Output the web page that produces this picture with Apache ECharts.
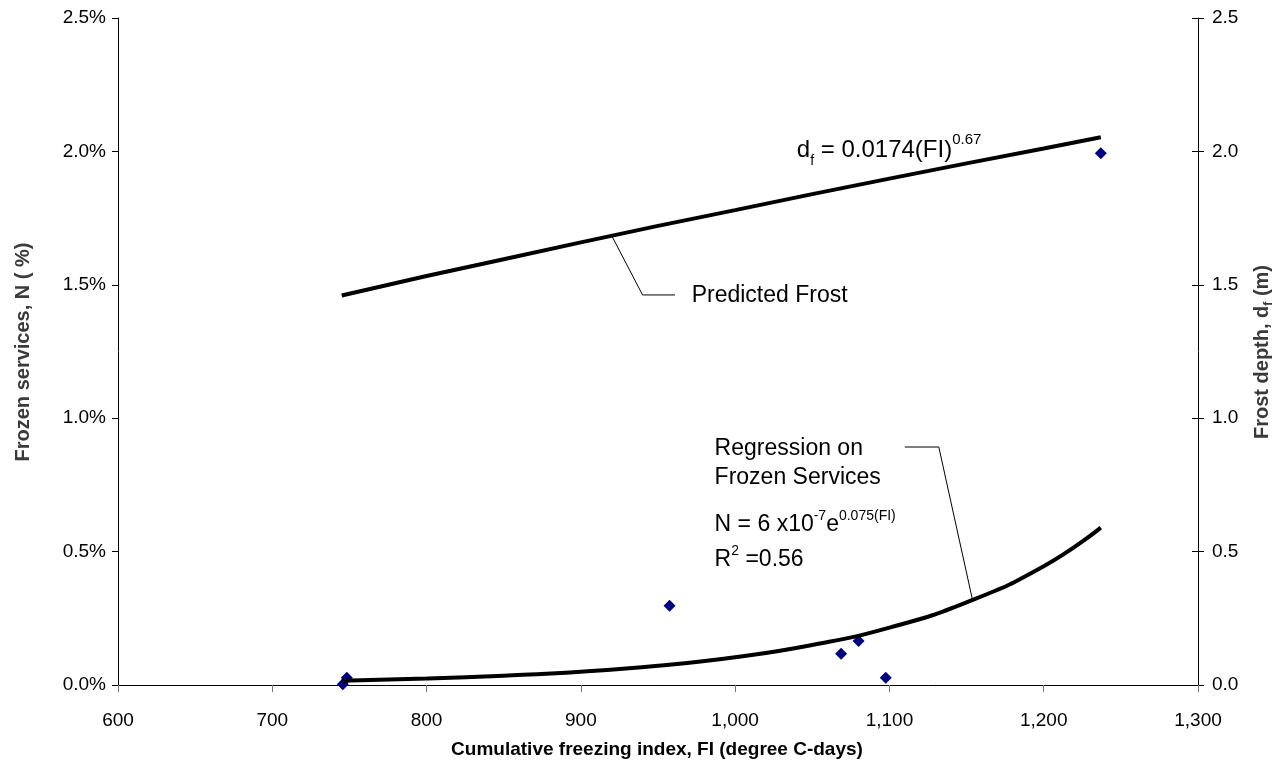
<!DOCTYPE html>
<html>
<head>
<meta charset="utf-8">
<script src="https://cdn.jsdelivr.net/npm/echarts@6/dist/echarts.min.js"></script>
<style>
  html, body { margin: 0; padding: 0; background: #fff; }
  #chart { width: 1281px; height: 783px; }
</style>
</head>
<body>
<div id="chart"></div>
<script>
// observed points: freezing index vs frozen services (%)
const observedFI = [745.7, 748.3, 957.5, 1068.7, 1080, 1097.6, 1237]
const observedPct = [0.003, 0.027, 0.297, 0.117, 0.165, 0.027, 1.993]

// regression curve on frozen services (%)
const regFI = [745, 800, 850, 900, 950, 1000, 1050, 1100, 1150, 1200, 1237]
const regPct = [0.016, 0.024, 0.035, 0.05, 0.072, 0.104, 0.15, 0.215, 0.31, 0.445, 0.59]

// predicted frost depth (m), right axis
const frostFI = [745, 800, 850, 900, 950, 1000, 1050, 1100, 1150, 1200, 1237]
const frostDepth = [1.46, 1.533, 1.596, 1.659, 1.721, 1.78, 1.84, 1.898, 1.955, 2.011, 2.053]

// leader lines for the labels
const frostLeaderFI = [920, 940, 961]
const frostLeaderVal = [1.684, 1.462, 1.462]
const regLeaderFI = [1110, 1132, 1154]
const regLeaderVal = [0.892, 0.892, 0.315]

const FONT = 'Liberation Sans, Arial, Helvetica, sans-serif'

const zip = (a, b) => a.map((v, i) => [v, b[i]])

const chart = echarts.init(document.getElementById('chart'))

const yCommon = {
  type: 'value', min: 0, max: 2.5, interval: 0.5,
  splitLine: { show: false },
  axisLine: { show: true, lineStyle: { color: '#000', width: 1 } },
  axisTick: { show: true, length: 6, lineStyle: { color: '#000' } }
}

chart.setOption({
  animation: false,
  backgroundColor: '#fff',
  grid: { left: 118, right: 83, top: 18, bottom: 98 },
  xAxis: {
    type: 'value', min: 600, max: 1300, interval: 100,
    splitLine: { show: false },
    axisLine: { lineStyle: { color: '#000', width: 1 }, onZero: false },
    axisTick: { length: 7, lineStyle: { color: '#777' } },
    axisLabel: {
      fontFamily: FONT, fontSize: 19, color: '#000', margin: 26,
      formatter: v => v.toLocaleString('en-US')
    }
  },
  yAxis: [
    Object.assign({}, yCommon, {
      position: 'left',
      axisLabel: { fontFamily: FONT, fontSize: 19, color: '#000', margin: 12,
        formatter: v => v.toFixed(1) + '%' }
    }),
    Object.assign({}, yCommon, {
      position: 'right',
      axisLabel: { fontFamily: FONT, fontSize: 19, color: '#000', margin: 14,
        formatter: v => v.toFixed(1) }
    }),
    Object.assign({}, yCommon, {
      position: 'right',
      axisLine: { show: false },
      axisTick: { show: true, inside: true, length: 6, lineStyle: { color: '#000' } },
      axisLabel: { show: false }
    })
  ],
  series: [
    {
      name: 'Predicted Frost', type: 'line', yAxisIndex: 1,
      data: zip(frostFI, frostDepth), smooth: false, showSymbol: false,
      lineStyle: { color: '#000', width: 4 }, silent: true
    },
    {
      name: 'Regression', type: 'line', yAxisIndex: 0,
      data: zip(regFI, regPct), smooth: true, showSymbol: false,
      lineStyle: { color: '#000', width: 4 }, silent: true
    },
    {
      name: 'Observed', type: 'scatter', yAxisIndex: 0,
      data: zip(observedFI, observedPct),
      symbol: 'diamond', symbolSize: 12,
      itemStyle: { color: '#000080', opacity: 1 }
    },
    {
      type: 'line', yAxisIndex: 1, data: zip(frostLeaderFI, frostLeaderVal),
      showSymbol: false, lineStyle: { color: '#000', width: 1 }, silent: true
    },
    {
      type: 'line', yAxisIndex: 0, data: zip(regLeaderFI, regLeaderVal),
      showSymbol: false, lineStyle: { color: '#000', width: 1 }, silent: true
    }
  ]
})

// annotations, anchored in data space
const px = (fi, v) => chart.convertToPixel({ xAxisIndex: 0, yAxisIndex: 0 }, [fi, v])

const supRich = (size, main, supSize) => ({
  m: { fontFamily: FONT, fontSize: size, color: '#000', lineHeight: main },
  sup: { fontFamily: FONT, fontSize: supSize || 14, color: '#000', lineHeight: 14, verticalAlign: 'top' },
  sub: { fontFamily: FONT, fontSize: 14, color: '#000', lineHeight: 26, verticalAlign: 'bottom' }
})

const label = (fi, v, text, rich) => {
  const p = px(fi, v)
  return {
    type: 'text', x: p[0], y: p[1],
    style: { text, rich, fontFamily: FONT, fontSize: 23, fill: '#000',
      textAlign: 'left', textVerticalAlign: 'middle' }
  }
}

const plain = (fi, v, text) => label(fi, v, '{m|' + text + '}', supRich(23, 28))

const title = (x, y, text, size, color, rot) => ({
  type: 'text', x, y, rotation: rot || 0,
  style: { text, fontFamily: FONT, fontSize: size, fontWeight: 'bold', fill: color,
    textAlign: 'center', textVerticalAlign: 'middle' }
})

chart.setOption({
  graphic: [
    label(1040, 2.005, '{m|d}{sub|f}{m| = 0.0174(FI)}{sup|0.67}', supRich(24, 36, 15)),
    plain(971.8, 1.458, 'Predicted Frost'),
    plain(986.7, 0.885, 'Regression on'),
    plain(986.7, 0.776, 'Frozen Services'),
    label(986.7, 0.6, '{m|N = 6 x10}{sup|-7}{m|e}{sup|0.075(FI)}', supRich(23, 32, 14)),
    label(986.7, 0.4685, '{m|R}{sup|2}{m| =0.56}', supRich(23, 32, 14)),
    title(657, 750, 'Cumulative freezing index, FI (degree C-days)', 19, '#000'),
    title(23, 352, 'Frozen services, N ( %)', 20, '#3a3a3a', Math.PI / 2),
    {
      type: 'text', x: 1262, y: 352, rotation: Math.PI / 2,
      style: {
        text: '{b|Frost depth, d}{s|f}{b| (m)}',
        rich: {
          b: { fontFamily: FONT, fontSize: 20, fontWeight: 'bold', fill: '#3a3a3a', lineHeight: 26 },
          s: { fontFamily: FONT, fontSize: 12, fontWeight: 'bold', fill: '#3a3a3a', lineHeight: 18, verticalAlign: 'bottom' }
        },
        textAlign: 'center', textVerticalAlign: 'middle'
      }
    }
  ]
})
</script>
</body>
</html>
